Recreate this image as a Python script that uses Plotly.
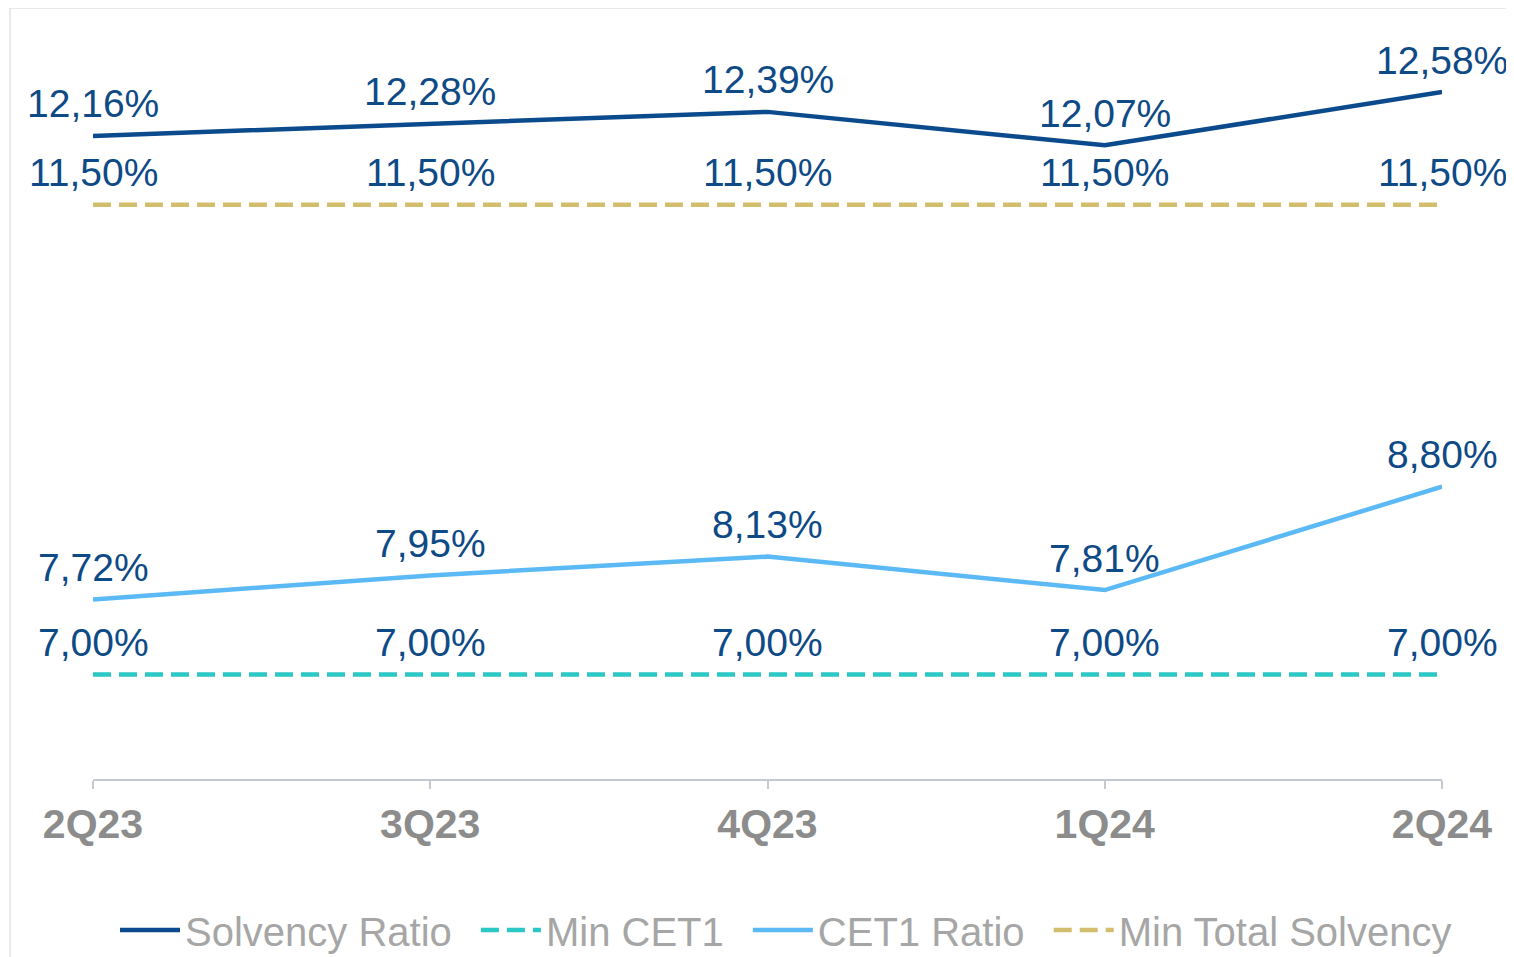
import plotly.graph_objects as go

quarters = ["2Q23", "3Q23", "4Q23", "1Q24", "2Q24"]
solvency_ratio = [12.16, 12.28, 12.39, 12.07, 12.58]
min_total_solvency = [11.50, 11.50, 11.50, 11.50, 11.50]
cet1_ratio = [7.72, 7.95, 8.13, 7.81, 8.80]
min_cet1 = [7.00, 7.00, 7.00, 7.00, 7.00]
series_names = ["Solvency Ratio", "Min CET1", "CET1 Ratio", "Min Total Solvency"]

C_SOLV = "#0B4A8C"
C_CET1 = "#5BB9F6"
C_MINCET1 = "#2CC8C6"
C_MINTOT = "#D3BE6E"
C_LABEL = "#0E4A86"
FONT = "Liberation Sans, Arial, sans-serif"

# page has an 8px body margin; figure is sized so it ends at the window edge
OFF = 8
W, H = 1514 - OFF, 957 - OFF
L, R = 93 - OFF, 72
T, B = 25 - OFF, 957 - 779
pw, ph = W - L - R, H - T - B
PX_PER_UNIT = 104.4

def px_x(p):
    return (p - OFF - L) / pw
def px_y(p):
    return (H - B - (p - OFF)) / ph

PAD = "\u00a0\u2009"

fig = go.Figure()
fig.add_trace(go.Scatter(x=quarters, y=solvency_ratio, name=series_names[0] + PAD, mode="lines",
                         line=dict(color=C_SOLV, width=4.5)))
fig.add_trace(go.Scatter(x=quarters, y=min_cet1, name=series_names[1] + PAD, mode="lines",
                         line=dict(color=C_MINCET1, width=4.5, dash="18px,8px")))
fig.add_trace(go.Scatter(x=quarters, y=cet1_ratio, name=series_names[2] + PAD, mode="lines",
                         line=dict(color=C_CET1, width=4.5)))
fig.add_trace(go.Scatter(x=quarters, y=min_total_solvency, name=series_names[3], mode="lines",
                         line=dict(color=C_MINTOT, width=4.5, dash="18px,8px")))

def fmt(v):
    return f"{v:.2f}".replace(".", ",") + "%"

annotations = []
for series in (solvency_ratio, min_total_solvency, cet1_ratio, min_cet1):
    for q, v in zip(quarters, series):
        annotations.append(dict(x=q, y=v, text=fmt(v), showarrow=False, yshift=32,
                                xanchor="center", yanchor="middle",
                                font=dict(family=FONT, size=39, color=C_LABEL)))

shapes = [
    dict(type="line", xref="paper", yref="paper", x0=px_x(10), x1=px_x(1514), y0=px_y(8), y1=px_y(8),
         line=dict(color="#E3E3E3", width=1.5)),
    dict(type="line", xref="paper", yref="paper", x0=px_x(10), x1=px_x(10), y0=px_y(8), y1=px_y(957),
         line=dict(color="#E3E3E3", width=1.5)),
]

fig.update_layout(
    width=W, height=H,
    margin=dict(l=L, r=R, t=T, b=B, autoexpand=False),
    paper_bgcolor="white", plot_bgcolor="white",
    annotations=annotations, shapes=shapes,
    showlegend=True,
    legend=dict(orientation="h", x=px_x(786), xanchor="center", y=px_y(930), yanchor="middle",
                font=dict(family=FONT, size=40, color="#A6A6A6"), itemwidth=60,
                bgcolor="rgba(0,0,0,0)", borderwidth=0),
    xaxis=dict(type="category", range=[0, 4], showgrid=False, zeroline=False,
               showline=True, linecolor="#C3CAD1", linewidth=1.5,
               ticks="outside", ticklen=8, tickcolor="#C3CAD1", tickwidth=1.5,
               tickfont=dict(family=FONT, size=41, color="#8C8C8C", weight="bold")),
    yaxis=dict(range=[6, 6 + ph / PX_PER_UNIT], visible=False, showgrid=False, zeroline=False),
)

fig.write_html("out.html")
